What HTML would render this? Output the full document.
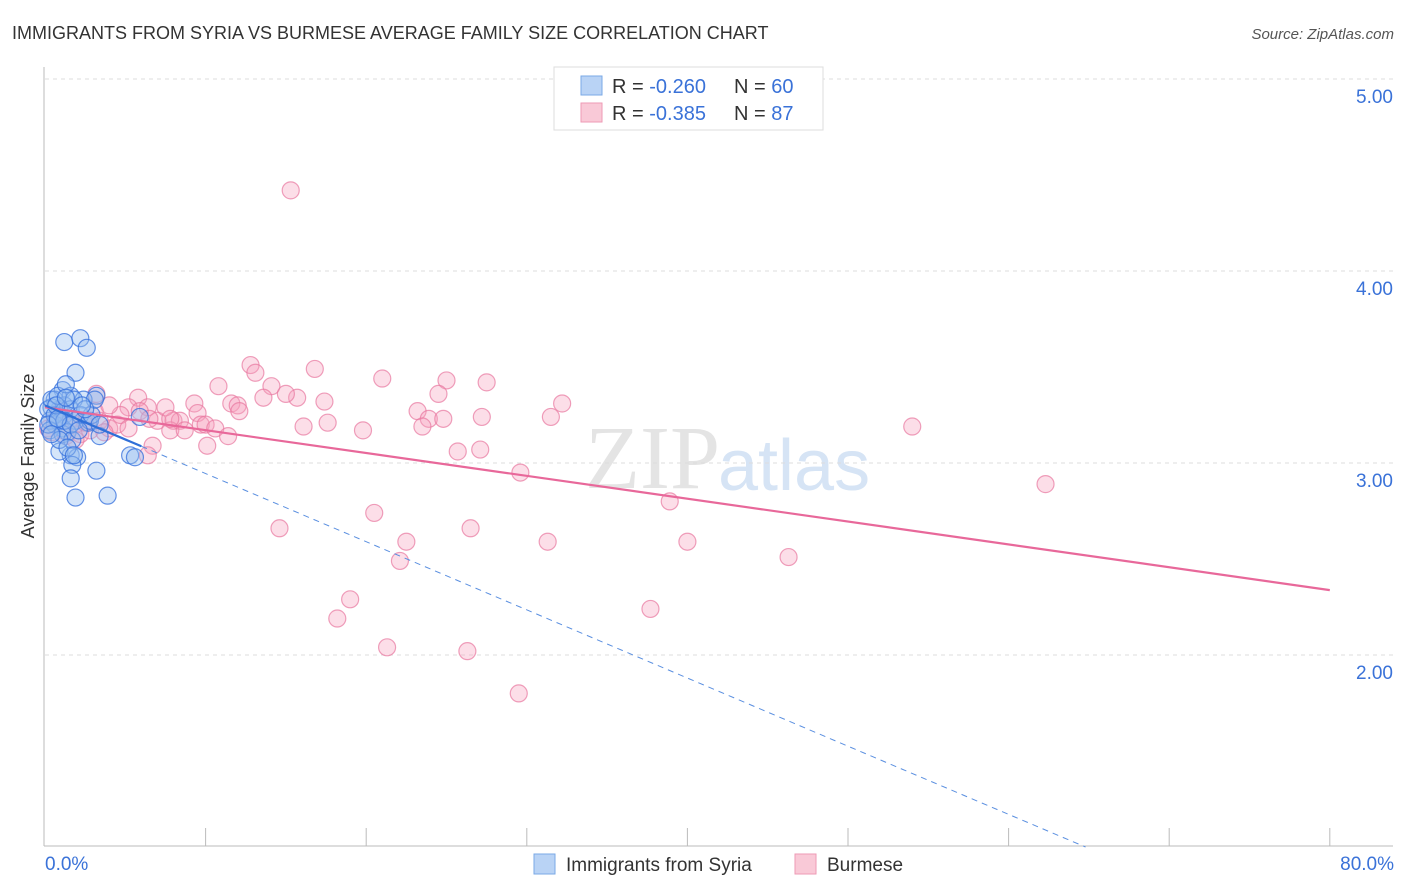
<!DOCTYPE html>
<html><head><meta charset="utf-8"><style>
body{margin:0;background:#fff;font-family:"Liberation Sans",sans-serif}
svg{display:block}
</style></head><body>
<svg id="c" width="1406" height="892">
<text x="12" y="39" font-size="18" fill="#333">IMMIGRANTS FROM SYRIA VS BURMESE AVERAGE FAMILY SIZE CORRELATION CHART</text>
<text x="1394" y="39" font-size="15" fill="#555" font-style="italic" text-anchor="end">Source: ZipAtlas.com</text>
<text x="720" y="488" font-size="90" fill="#e4e4e4" font-family="Liberation Serif" text-anchor="end">ZIP</text>
<text x="718" y="490" font-size="72" fill="#d6e4f5">atlas</text>
<g id="grid"></g>
<g id="axes"></g>
<g id="pts"></g>
<g id="trend"></g>
<text transform="translate(34,456) rotate(-90)" font-size="18" fill="#333" text-anchor="middle">Average Family Size</text>
<g>
<rect x="554" y="67" width="269" height="63" fill="#fff" stroke="#ddd"/>
<rect x="581" y="76" width="21" height="19" fill="#b9d3f5" stroke="#7aa8e6"/>
<rect x="581" y="103" width="21" height="19" fill="#f9c9d7" stroke="#ee9ab4"/>
<text x="612" y="93" font-size="20" fill="#333">R = <tspan fill="#3a72d8">-0.260</tspan></text>
<text x="734" y="93" font-size="20" fill="#333">N = <tspan fill="#3a72d8">60</tspan></text>
<text x="612" y="120" font-size="20" fill="#333">R = <tspan fill="#3a72d8">-0.385</tspan></text>
<text x="734" y="120" font-size="20" fill="#333">N = <tspan fill="#3a72d8"> 87</tspan></text>
</g>
<g>
<rect x="534" y="854" width="21" height="20" fill="#b9d3f5" stroke="#7aa8e6"/>
<text x="566" y="871" font-size="19" fill="#333">Immigrants from Syria</text>
<rect x="795" y="854" width="21" height="20" fill="#f9c9d7" stroke="#ee9ab4"/>
<text x="827" y="871" font-size="19" fill="#333">Burmese</text>
</g>
</svg>
<script>
const yTicks=[5,4,3,2];
const yTickLabels=["5.00","4.00","3.00","2.00"];
const xTickLabels=["0.0%","80.0%"];
const syriaX=[1.2,2.2,2.6,1.9,1.1,1.6,3.2,2.4,0.6,0.9,0.4,1.2,1.9,2.7,3.4,0.6,1.1,1.4,5.9,5.3,5.6,1.6,2.0,1.7,0.9,3.2,1.6,1.9,3.9,0.3,0.2,0.6,0.8,1.2,1.6,2.2,2.8,0.3,1.1,1.7,0.4,0.8,1.3,1.8,2.9,0.7,0.2,1.2,1.6,2.1,3.1,2.5,0.9,1.4,1.8,0.8,0.4,1.3,2.3,3.4];
const syriaY=[3.63,3.65,3.60,3.47,3.38,3.35,3.35,3.33,3.33,3.28,3.29,3.25,3.22,3.21,3.14,3.20,3.18,3.16,3.24,3.04,3.03,3.04,3.03,2.99,3.06,2.96,2.92,2.82,2.83,3.22,3.28,3.25,3.22,3.30,3.28,3.25,3.22,3.17,3.15,3.12,3.33,3.35,3.41,3.33,3.25,3.30,3.20,3.22,3.20,3.17,3.33,3.28,3.12,3.08,3.04,3.23,3.15,3.34,3.30,3.20];
const burmX=[15.3,12.8,16.8,13.1,21.0,25.0,27.5,10.8,14.1,24.5,15.7,15.0,13.6,11.6,9.3,12.0,17.4,32.2,3.2,5.8,5.2,6.4,12.1,9.5,7.0,8.0,8.4,9.7,10.0,10.6,11.4,4.0,3.4,7.8,8.7,23.2,23.9,24.8,27.2,31.5,17.6,16.1,19.8,23.5,54.0,6.7,10.1,6.4,25.7,27.1,29.6,38.9,62.3,20.5,14.6,26.5,22.5,31.3,40.0,46.3,22.1,19.0,18.2,37.7,21.3,26.3,29.5,0.6,1.1,1.9,2.2,2.8,4.5,4.7,0.9,1.6,2.5,3.7,5.2,5.9,7.5,0.2,0.4,1.3,1.9,3.1,4.0,6.5,7.8];
const burmY=[4.42,3.51,3.49,3.47,3.44,3.43,3.42,3.40,3.40,3.36,3.34,3.36,3.34,3.31,3.31,3.30,3.32,3.31,3.36,3.34,3.29,3.29,3.27,3.26,3.22,3.22,3.22,3.20,3.20,3.18,3.14,3.18,3.22,3.17,3.17,3.27,3.23,3.23,3.24,3.24,3.21,3.19,3.17,3.19,3.19,3.09,3.09,3.04,3.06,3.07,2.95,2.80,2.89,2.74,2.66,2.66,2.59,2.59,2.59,2.51,2.49,2.29,2.19,2.24,2.04,2.02,1.80,3.22,3.17,3.20,3.15,3.17,3.20,3.25,3.27,3.23,3.21,3.16,3.18,3.27,3.29,3.18,3.16,3.14,3.12,3.27,3.30,3.23,3.23];
const syriaTrend=[3.30,-0.0355];
const burmTrend=[3.29,-0.0119];
const X=v=>45+v*16.06;
const Y=v=>79+(5-v)*192;
const NS="http://www.w3.org/2000/svg";
function mk(tag,attrs,parent){const e=document.createElementNS(NS,tag);for(const k in attrs)e.setAttribute(k,attrs[k]);document.getElementById(parent).appendChild(e);return e;}
yTicks.forEach((t,i)=>{
 const l=mk('line',{x1:45,x2:1393,y1:Y(t),y2:Y(t),stroke:'#ddd','stroke-dasharray':'4,4'},'grid');
 
 
 const tx=mk('text',{x:1393,y:Y(t)+24,'font-size':19,fill:'#3a72d8','text-anchor':'end'},'grid');
 tx.textContent=yTickLabels[i];
 
 
});
const ya=mk('line',{x1:44,x2:44,y1:67,y2:846,stroke:'#bbb'},'axes');


const xa=mk('line',{x1:44,x2:1393,y1:846,y2:846,stroke:'#bbb'},'axes');


for(let v=10;v<=80;v+=10){
 const t=mk('line',{x1:X(v),x2:X(v),y1:828,y2:846,stroke:'#bbb'},'axes');
 
 
}
[[0,'start',45],[80,'end',1394]].forEach((a,i)=>{
 const t=mk('text',{x:a[2],y:870,'font-size':19,fill:'#3a72d8','text-anchor':a[1]},'axes');
 t.textContent=xTickLabels[i];
 
 
});
burmX.forEach((v,i)=>{
 const c=mk('circle',{cx:X(v),cy:Y(burmY[i]),r:8.5,fill:'rgba(245,160,190,0.35)',stroke:'rgba(232,120,160,0.7)','stroke-width':1.2},'pts');
 
 
});
syriaX.forEach((v,i)=>{
 const c=mk('circle',{cx:X(v),cy:Y(syriaY[i]),r:8.5,fill:'rgba(150,190,240,0.4)',stroke:'rgba(50,110,220,0.75)','stroke-width':1.2},'pts');
 
 
});
const bt=mk('line',{x1:X(0),y1:Y(burmTrend[0]),x2:X(80),y2:Y(burmTrend[0]+burmTrend[1]*80),stroke:'#e8689a','stroke-width':2.2},'trend');


const st=mk('line',{x1:X(0),y1:Y(syriaTrend[0]),x2:X(6),y2:Y(syriaTrend[0]+syriaTrend[1]*6),stroke:'#2f6fd8','stroke-width':2.2},'trend');


const xe=(syriaTrend[0]-1.0)/-syriaTrend[1];
const sd=mk('line',{x1:X(6),y1:Y(syriaTrend[0]+syriaTrend[1]*6),x2:X(xe),y2:Y(1.0),stroke:'#5a8fe0','stroke-width':1,'stroke-dasharray':'6,5'},'trend');


</script>
</body></html>
